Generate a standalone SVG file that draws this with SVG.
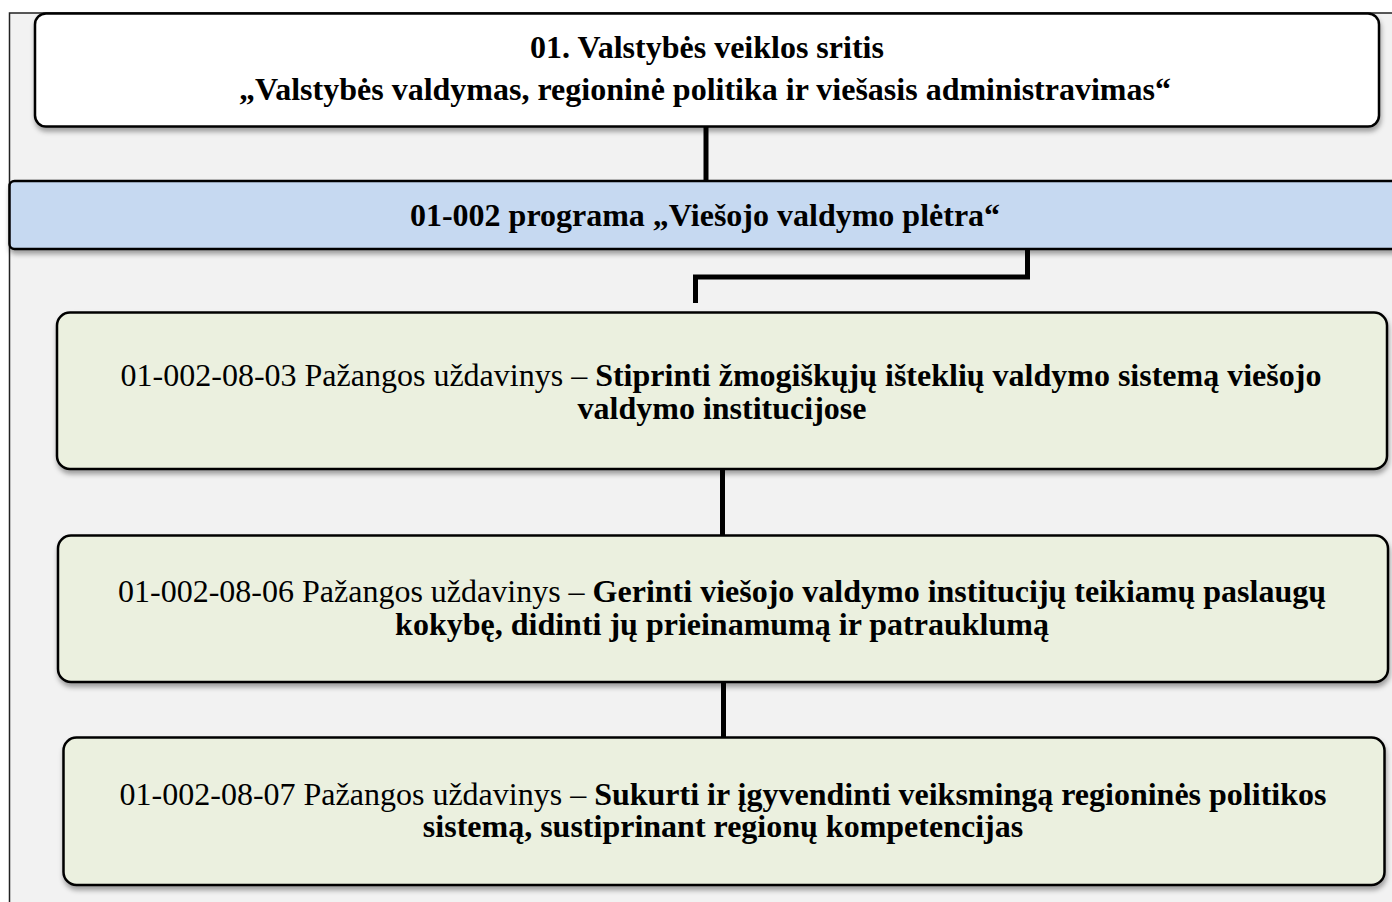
<svg xmlns="http://www.w3.org/2000/svg" width="1392" height="902" viewBox="0 0 1392 902">
<defs>
<filter id="sh" x="-5%" y="-20%" width="110%" height="150%">
<feDropShadow dx="1" dy="4" stdDeviation="2.5" flood-color="#000" flood-opacity="0.35"/>
</filter>
<style>
.box{stroke:#000;stroke-width:2.5;filter:url(#sh)}
.top{fill:#ffffff}
.blue{fill:#c6d9f1}
.green{fill:#ebf0df}
.t{font-family:"Liberation Serif","Times New Roman",serif;fill:#000;text-anchor:middle;font-size:32px}
.b{font-weight:bold}
.c{fill:none;stroke:#000;stroke-width:5;stroke-linecap:butt;stroke-linejoin:miter}
</style>
</defs>
<rect x="0" y="0" width="1392" height="902" fill="#ffffff"/>
<rect x="9.5" y="13" width="1400" height="900" fill="#f2f2f2" stroke="#222" stroke-width="1.5"/>
<g id="connectors">
<path class="c" d="M706 127 V181"/>
<path class="c" d="M1027.5 249 V277 H695.5 V303"/>
<path class="c" d="M722.5 469 V536"/>
<path class="c" d="M723.5 682 V737"/>
</g>
<g id="node-area">
<rect class="box top" x="35" y="13.5" width="1344" height="113" rx="11"/>
<text class="t b" x="707" y="58">01. Valstybės veiklos sritis</text>
<text class="t b" x="705" y="100">„Valstybės valdymas, regioninė politika ir viešasis administravimas“</text>
</g>
<g id="node-program">
<rect class="box blue" x="9.5" y="181" width="1400" height="68" rx="5"/>
<text class="t b" x="705" y="226">01-002 programa „Viešojo valdymo plėtra“</text>
</g>
<g id="node-task-03">
<rect class="box green" x="57" y="312.5" width="1330" height="156.5" rx="13"/>
<text class="t" x="721" y="386">01-002-08-03 Pažangos uždavinys – <tspan class="b">Stiprinti žmogiškųjų išteklių valdymo sistemą viešojo</tspan></text>
<text class="t b" x="722" y="419">valdymo institucijose</text>
</g>
<g id="node-task-06">
<rect class="box green" x="58" y="535.5" width="1330" height="146.5" rx="13"/>
<text class="t" x="722" y="602">01-002-08-06 Pažangos uždavinys – <tspan class="b">Gerinti viešojo valdymo institucijų teikiamų paslaugų</tspan></text>
<text class="t b" x="722" y="635">kokybę, didinti jų prieinamumą ir patrauklumą</text>
</g>
<g id="node-task-07">
<rect class="box green" x="63.5" y="737.5" width="1321" height="147.5" rx="13"/>
<text class="t" x="723" y="805">01-002-08-07 Pažangos uždavinys – <tspan class="b">Sukurti ir įgyvendinti veiksmingą regioninės politikos</tspan></text>
<text class="t b" x="723" y="837">sistemą, sustiprinant regionų kompetencijas</text>
</g>
</svg>
